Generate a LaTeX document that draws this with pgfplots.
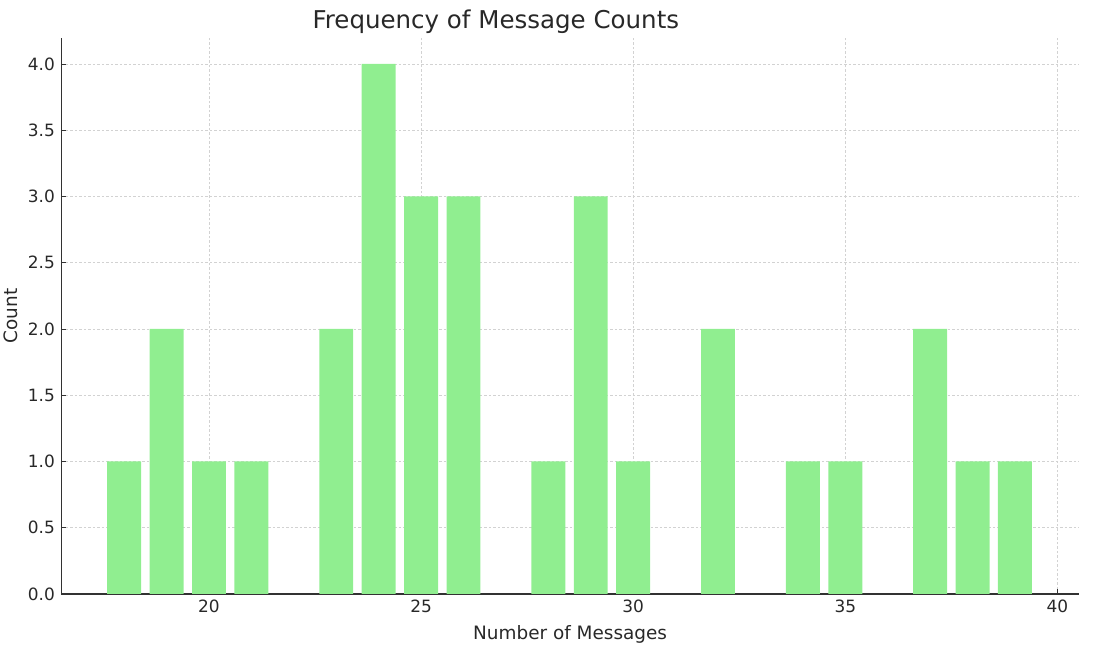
\documentclass[border=0pt]{standalone}
\usepackage{fontspec}
\setmainfont{DejaVu Sans}
\usepackage{pgfplots}
\pgfplotsset{compat=1.18}
\usetikzlibrary{calc}
\definecolor{bargreen}{RGB}{144,238,144}
\definecolor{txt}{RGB}{40,40,40}
\definecolor{spine}{RGB}{50,50,50}
\begin{document}
\begin{tikzpicture}
\begin{axis}[
  scale only axis,
  width=1017.7bp, height=555.7bp,
  xmin=16.518, xmax=40.51,
  ymin=0, ymax=4.194,
  axis x line*=bottom, axis y line*=left,
  axis line style={-, spine, line width=1.2bp},
  xtick={20,25,30,35,40},
  ytick={0,0.5,1,1.5,2,2.5,3,3.5,4},
  yticklabel style={xshift=-3bp, /pgf/number format/.cd, fixed, fixed zerofill, precision=1},
  xticklabel style={yshift=-2bp},
  /pgf/number format/assume math mode=true,
  tick align=inside,
  major tick length=5bp,
  tick style={spine, line width=0.9bp},
  ticklabel style={font=\fontsize{17}{20}\selectfont, text=txt},
  grid=major,
  major grid style={dash pattern=on 2.5bp off 2bp, color=gray!35, line width=0.8bp},
  title={Frequency of Message Counts},
  title style={at={(0.427,1)}, anchor=base, yshift=4bp, font=\fontsize{24.6}{29}\selectfont, text=txt},
  xlabel={Number of Messages},
  xlabel style={at={(0.5,0)}, anchor=base, yshift=-46bp, font=\fontsize{18.5}{22}\selectfont, text=txt},
  ylabel={Count},
  ylabel style={at={(axis description cs:-0.057,0.5)}, anchor=north, inner sep=0pt, font=\fontsize{18.5}{22}\selectfont, text=txt},
]
\addplot[ybar, bar width=0.8, fill=bargreen, draw=none] coordinates {
  (18,1) (19,2) (20,1) (21,1) (23,2) (24,4) (25,3) (26,3) (28,1)
  (29,3) (30,1) (32,2) (34,1) (35,1) (37,2) (38,1) (39,1)
};
\end{axis}
\pgfresetboundingbox
\path[use as bounding box] ($(current axis.south west)+(-61.3bp,-56bp)$) rectangle ($(current axis.north east)+(17bp,38.3bp)$);
\end{tikzpicture}
\end{document}
